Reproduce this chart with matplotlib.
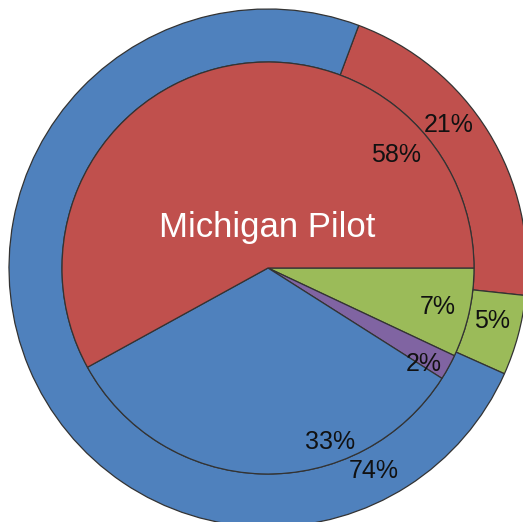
import matplotlib.pyplot as plt

# Outer ring shares, clockwise from the top-right split
outer_labels = ["Red", "Green", "Blue"]
outer_pct = [21, 5, 74]

# Inner pie shares, clockwise from 3 o'clock
inner_labels = ["Green", "Purple", "Blue", "Red"]
inner_pct = [7, 2, 33, 58]

title_text = "Michigan Pilot"

colors = {"Blue": "#4F81BD", "Red": "#C0504D", "Green": "#9BBB59", "Purple": "#8064A2"}

W, H = 523, 522
cx, cy = 268, H - 268  # pie centre in pixel units
R_out, R_in = 259, 206

fig = plt.figure(figsize=(W / 100, H / 100), dpi=100)
ax = fig.add_axes([0, 0, 1, 1])

edge = dict(edgecolor="#333333", linewidth=0.9)

ax.pie(outer_pct, radius=R_out, center=(cx, cy), startangle=69.5,
       counterclock=False, colors=[colors[k] for k in outer_labels],
       wedgeprops=dict(width=R_out - R_in, **edge))
ax.pie(inner_pct, radius=R_in, center=(cx, cy), startangle=0,
       counterclock=False, colors=[colors[k] for k in inner_labels],
       wedgeprops=edge)

# label placement (pixel positions, y measured from top)
outer_pos = [(449, 125), (492, 321), (374, 471)]
inner_pos = [(438, 307), (424, 364), (330, 442), (396, 155)]

for v, (x, y) in zip(outer_pct, outer_pos):
    ax.text(x, H - y, f"{v}%", ha="center", va="center", fontsize=18,
            family="Liberation Sans", color="#111111")
for v, (x, y) in zip(inner_pct, inner_pos):
    ax.text(x, H - y, f"{v}%", ha="center", va="center", fontsize=18,
            family="Liberation Sans", color="#111111")

ax.text(267, H - 228, title_text, ha="center", va="center", fontsize=25,
        family="Liberation Sans", color="white")

ax.set_xlim(0, W)
ax.set_ylim(0, H)
ax.set_aspect("equal", adjustable="datalim")
ax.axis("off")

fig.savefig("out.png", dpi=100)
